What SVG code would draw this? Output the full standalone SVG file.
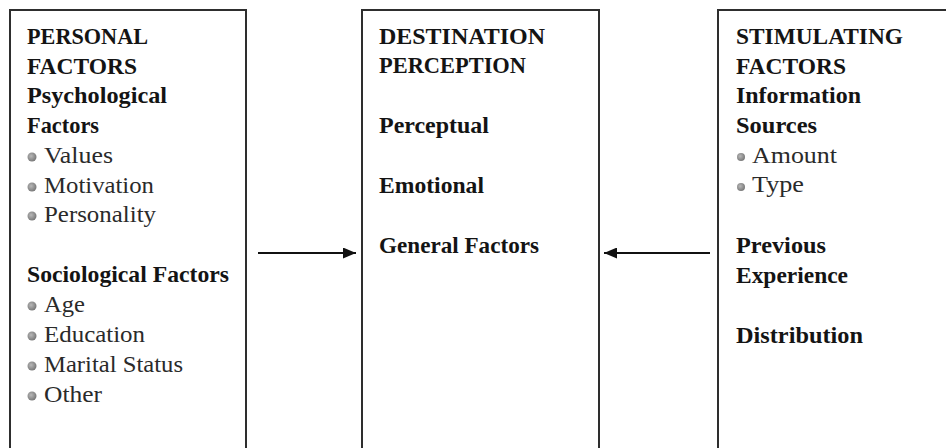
<svg xmlns="http://www.w3.org/2000/svg" width="946" height="448" viewBox="0 0 946 448">
  <style>
    .box { fill: #ffffff; stroke: #2e2e2e; stroke-width: 2; }
    .h { font-family: "Liberation Serif", "Times New Roman", serif; font-size: 23px; font-weight: bold; fill: #141414; }
    .t { font-family: "Liberation Serif", "Times New Roman", serif; font-size: 23px; fill: #2a2a2a; }
    .dot { fill: url(#dotFill); }
    .link { stroke: #111111; stroke-width: 2.2; fill: none; }
  </style>
  <defs>
    <radialGradient id="dotFill" cx="0.4" cy="0.4" r="0.6">
      <stop offset="0" stop-color="#b8b8b8"/>
      <stop offset="1" stop-color="#7a7a7a"/>
    </radialGradient>
    <marker id="head" markerWidth="13" markerHeight="11" refX="13" refY="5.5" orient="auto" markerUnits="userSpaceOnUse">
      <path d="M0,0 L13,5.5 L0,11 Z" fill="#111111"/>
    </marker>
  </defs>
  <rect width="946" height="448" fill="#ffffff"/>

  <!-- Personal factors -->
  <g id="personal">
    <rect class="box" x="10" y="10" width="236" height="460"/>
    <text class="h" x="27" y="44" textLength="121" lengthAdjust="spacingAndGlyphs">PERSONAL</text>
    <text class="h" x="27" y="74" textLength="110" lengthAdjust="spacingAndGlyphs">FACTORS</text>
    <text class="h" x="27" y="103" textLength="140" lengthAdjust="spacingAndGlyphs">Psychological</text>
    <text class="h" x="27" y="133" textLength="72" lengthAdjust="spacingAndGlyphs">Factors</text>
    <circle class="dot" cx="32" cy="157" r="4.5"/>
    <text class="t" x="44" y="163" textLength="69" lengthAdjust="spacingAndGlyphs">Values</text>
    <circle class="dot" cx="32" cy="187" r="4.5"/>
    <text class="t" x="44" y="193" textLength="110" lengthAdjust="spacingAndGlyphs">Motivation</text>
    <circle class="dot" cx="32" cy="216" r="4.5"/>
    <text class="t" x="44" y="222" textLength="112" lengthAdjust="spacingAndGlyphs">Personality</text>
    <text class="h" x="27" y="282" textLength="202" lengthAdjust="spacingAndGlyphs">Sociological Factors</text>
    <circle class="dot" cx="32" cy="306" r="4.5"/>
    <text class="t" x="44" y="312" textLength="41" lengthAdjust="spacingAndGlyphs">Age</text>
    <circle class="dot" cx="32" cy="336" r="4.5"/>
    <text class="t" x="44" y="342" textLength="101" lengthAdjust="spacingAndGlyphs">Education</text>
    <circle class="dot" cx="32" cy="366" r="4.5"/>
    <text class="t" x="44" y="372" textLength="139" lengthAdjust="spacingAndGlyphs">Marital Status</text>
    <circle class="dot" cx="32" cy="396" r="4.5"/>
    <text class="t" x="44" y="402" textLength="58" lengthAdjust="spacingAndGlyphs">Other</text>
  </g>

  <!-- Destination perception -->
  <g id="destination">
    <rect class="box" x="362" y="10" width="237" height="460"/>
    <text class="h" x="379" y="44" textLength="166" lengthAdjust="spacingAndGlyphs">DESTINATION</text>
    <text class="h" x="379" y="73" textLength="147" lengthAdjust="spacingAndGlyphs">PERCEPTION</text>
    <text class="h" x="379" y="133" textLength="110" lengthAdjust="spacingAndGlyphs">Perceptual</text>
    <text class="h" x="379" y="193" textLength="105" lengthAdjust="spacingAndGlyphs">Emotional</text>
    <text class="h" x="379" y="253" textLength="160" lengthAdjust="spacingAndGlyphs">General Factors</text>
  </g>

  <!-- Stimulating factors -->
  <g id="stimulating">
    <rect class="box" x="718" y="10" width="260" height="460"/>
    <text class="h" x="736" y="44" textLength="167" lengthAdjust="spacingAndGlyphs">STIMULATING</text>
    <text class="h" x="736" y="74" textLength="110" lengthAdjust="spacingAndGlyphs">FACTORS</text>
    <text class="h" x="736" y="103" textLength="125" lengthAdjust="spacingAndGlyphs">Information</text>
    <text class="h" x="736" y="133" textLength="81" lengthAdjust="spacingAndGlyphs">Sources</text>
    <circle class="dot" cx="741" cy="157" r="4"/>
    <text class="t" x="752" y="163" textLength="85" lengthAdjust="spacingAndGlyphs">Amount</text>
    <circle class="dot" cx="741" cy="187" r="4"/>
    <text class="t" x="752" y="192" textLength="52" lengthAdjust="spacingAndGlyphs">Type</text>
    <text class="h" x="736" y="253" textLength="90" lengthAdjust="spacingAndGlyphs">Previous</text>
    <text class="h" x="736" y="283" textLength="112" lengthAdjust="spacingAndGlyphs">Experience</text>
    <text class="h" x="736" y="343" textLength="127" lengthAdjust="spacingAndGlyphs">Distribution</text>
  </g>

  <!-- Connectors -->
  <g id="connectors">
    <line class="link" x1="258" y1="253" x2="356" y2="253" marker-end="url(#head)"/>
    <line class="link" x1="710" y1="253" x2="604" y2="253" marker-end="url(#head)"/>
  </g>
</svg>
